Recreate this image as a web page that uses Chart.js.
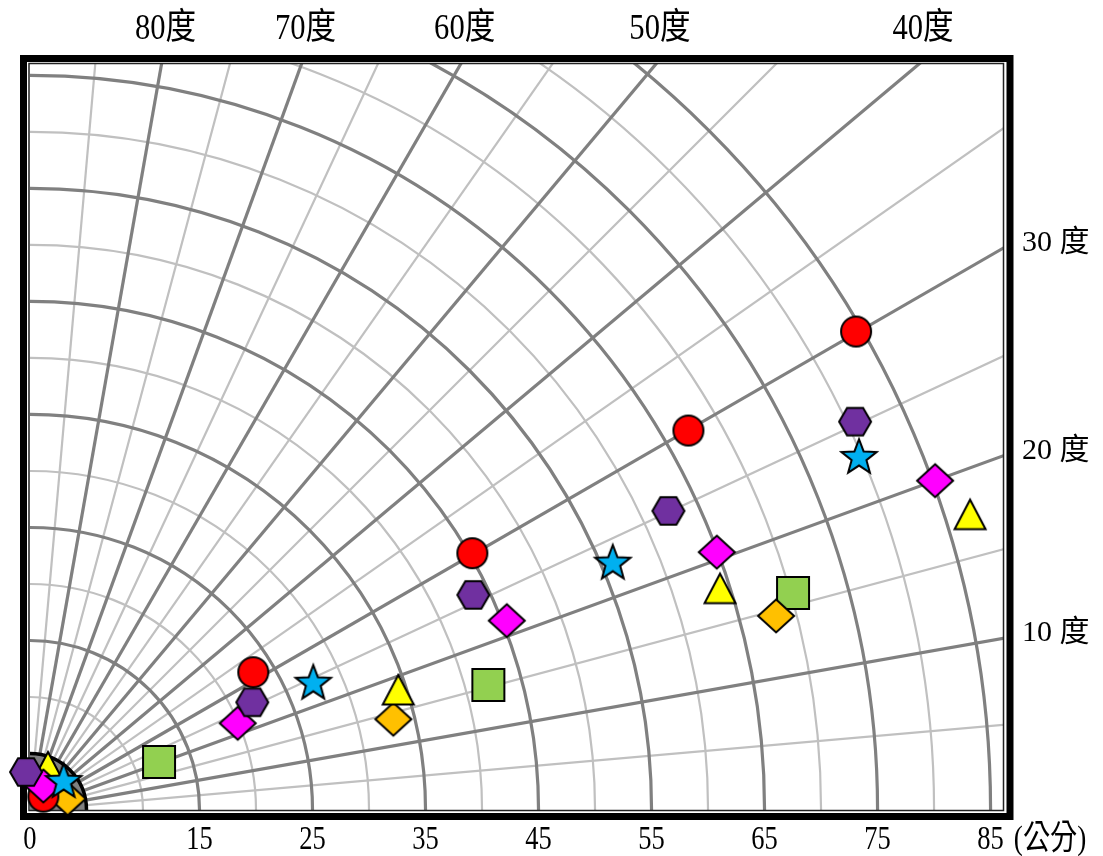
<!DOCTYPE html>
<html>
<head>
<meta charset="utf-8">
<script src="https://cdn.jsdelivr.net/npm/chart.js@4.4.1/dist/chart.umd.min.js"></script>
<style>
  html, body { margin: 0; padding: 0; background: #ffffff; }
  #wrap { width: 1103px; height: 856px; }
</style>
</head>
<body>
<div id="wrap"><canvas id="chart" width="1103" height="856"></canvas></div>
<script>
// Polar grid: distance rings (cm) and angle spokes (degrees)
const majorRings = [15, 25, 35, 45, 55, 65, 75, 85];
const minorRings = [10, 20, 30, 40, 50, 60, 70, 80];
const hubRing = 5;
const majorSpokes = [10, 20, 30, 40, 50, 60, 70, 80];
const minorSpokes = [5, 15, 25, 35, 45, 55, 65, 75, 85];

// Tick labels
const distanceTicks = [0, 15, 25, 35, 45, 55, 65, 75, 85];
const distanceUnit = '(公分)';
const topAngleTicks = [80, 70, 60, 50, 40];
const sideAngleTicks = [30, 20, 10];
const angleUnit = '度';

// Series: landing points, x = horizontal cm, y = vertical cm
const redX     = [1.18, 19.76, 39.14, 58.26, 73.10];
const redY     = [1.18, 12.19, 22.72, 33.57, 42.33];
const purpleX  = [-0.35, 19.67, 39.23, 56.49, 73.01];
const purpleY  = [3.36, 9.53, 19.03, 26.46, 34.36];
const blueX    = [2.98, 25.07, 51.57, 73.36];
const blueY    = [2.65, 11.35, 21.97, 31.33];
const magentaX = [1.18, 18.38, 42.19, 60.77, 80.09];
const magentaY = [2.12, 7.67, 16.75, 22.81, 29.14];
const yellowX  = [1.59, 32.59, 61.06, 83.19];
const yellowY  = [3.80, 10.62, 19.58, 26.13];
const orangeX  = [3.33, 32.15, 66.02];
const orangeY  = [1.00, 8.03, 17.17];
const greenX   = [11.42, 40.56, 67.52];
const greenY   = [4.25, 11.06, 19.20];

const pairs = (xs, ys) => xs.map((x, i) => ({ x: x, y: ys[i] }));

// Marker sprites (drawn once, used as point styles)
function marker(shape, fill) {
  const S = 46, m = S / 2;
  const c = document.createElement('canvas');
  c.width = S; c.height = S;
  const g = c.getContext('2d');
  g.beginPath();
  if (shape === 'circle') {
    g.arc(m, m, 15, 0, Math.PI * 2);
  } else if (shape === 'hexagon') {
    const R = 16;
    for (let i = 0; i < 6; i++) {
      const a = i * Math.PI / 3;
      const px = m + R * Math.cos(a), py = m + R * Math.sin(a);
      i ? g.lineTo(px, py) : g.moveTo(px, py);
    }
  } else if (shape === 'star') {
    const R = 18.5, r = 7.8, dy = (R - R * Math.cos(Math.PI / 5)) / 2;
    for (let i = 0; i < 10; i++) {
      const a = -Math.PI / 2 + i * Math.PI / 5;
      const rad = i % 2 ? r : R;
      const px = m + rad * Math.cos(a), py = m + dy + rad * Math.sin(a);
      i ? g.lineTo(px, py) : g.moveTo(px, py);
    }
  } else if (shape === 'diamond') {
    g.moveTo(m, m - 16.5); g.lineTo(m + 18, m); g.lineTo(m, m + 16.5); g.lineTo(m - 18, m);
  } else if (shape === 'triangle') {
    g.moveTo(m, m - 15); g.lineTo(m + 15.5, m + 14.5); g.lineTo(m - 15.5, m + 14.5);
  } else if (shape === 'square') {
    g.rect(m - 16, m - 16, 32, 32);
  }
  g.closePath();
  g.fillStyle = fill;
  g.fill();
  g.lineWidth = 2;
  g.lineJoin = 'miter';
  g.strokeStyle = '#000000';
  g.stroke();
  return c;
}

function series(label, xs, ys, shape, fill) {
  return {
    label: label,
    data: pairs(xs, ys),
    pointStyle: marker(shape, fill),
    pointRadius: 16,
    pointHoverRadius: 16,
    pointBorderWidth: 0,
    showLine: false,
    clip: false
  };
}

// Frame, rings and spokes, drawn beneath the markers
const polarGrid = {
  id: 'polarGrid',
  beforeDatasetsDraw(chart) {
    const { ctx, chartArea: a, scales: { x, y } } = chart;
    const ox = x.getPixelForValue(0), oy = y.getPixelForValue(0);
    const unit = x.getPixelForValue(1) - ox;
    ctx.save();

    ctx.save();
    ctx.beginPath();
    ctx.rect(a.left, a.top, a.right - a.left, a.bottom - a.top);
    ctx.clip();

    const ring = (r, color, w) => {
      ctx.beginPath();
      ctx.arc(ox, oy, r * unit, -Math.PI / 2, 0);
      ctx.strokeStyle = color; ctx.lineWidth = w; ctx.stroke();
    };
    const spoke = (deg, color, w) => {
      const t = deg * Math.PI / 180;
      ctx.beginPath();
      ctx.moveTo(ox + hubRing * unit * Math.cos(t), oy - hubRing * unit * Math.sin(t));
      ctx.lineTo(ox + 130 * unit * Math.cos(t), oy - 130 * unit * Math.sin(t));
      ctx.strokeStyle = color; ctx.lineWidth = w; ctx.stroke();
    };
    minorRings.forEach(r => ring(r, '#c0c0c0', 2.2));
    minorSpokes.forEach(d => spoke(d, '#c0c0c0', 2.2));
    majorRings.forEach(r => ring(r, '#808080', 3.2));
    majorSpokes.forEach(d => spoke(d, '#808080', 3.2));

    // hub
    ctx.beginPath();
    ctx.moveTo(ox, oy);
    ctx.arc(ox, oy, hubRing * unit, -Math.PI / 2, 0);
    ctx.closePath();
    ctx.fillStyle = '#808080';
    ctx.fill();
    ctx.beginPath();
    ctx.arc(ox, oy, hubRing * unit, -Math.PI / 2, 0);
    ctx.strokeStyle = '#000000'; ctx.lineWidth = 3.5; ctx.stroke();
    ctx.restore();

    // double frame
    ctx.strokeStyle = '#222222';
    ctx.lineWidth = 1.5;
    ctx.strokeRect(a.left - 1, a.top - 0.5, a.right - a.left + 1.5, a.bottom - a.top + 1);
    ctx.strokeStyle = '#000000';
    ctx.lineWidth = 7;
    ctx.strokeRect(a.left - 6.5, a.top - 5.5, a.right - a.left + 13.5, a.bottom - a.top + 12);
    ctx.restore();
  },
  afterDraw(chart) {
    const { ctx, chartArea: a, scales: { x, y } } = chart;
    const ox = x.getPixelForValue(0), oy = y.getPixelForValue(0);
    const serif = '"Liberation Serif", "Noto Sans CJK TC", serif';
    ctx.save();
    ctx.fillStyle = '#000000';
    ctx.textBaseline = 'middle';

    const squeezed = (text, cx, cy, size, sx, align) => {
      ctx.save();
      ctx.translate(cx, cy);
      ctx.scale(sx, 1);
      ctx.font = size + 'px ' + serif;
      ctx.textAlign = align || 'center';
      ctx.fillText(text, 0, 0);
      ctx.restore();
    };

    // distance labels along the bottom
    let lastRight = 0;
    distanceTicks.forEach(v => {
      const px = x.getPixelForValue(v);
      squeezed(String(v), px, 840, 34, 0.78);
      ctx.font = '34px ' + serif;
      lastRight = px + ctx.measureText(String(v)).width * 0.78 / 2;
    });
    squeezed(distanceUnit, lastRight + 10, 840, 34, 0.8, 'left');

    // angle labels across the top
    topAngleTicks.forEach(d => {
      const t = d * Math.PI / 180;
      const px = ox + (oy - a.top) / Math.tan(t);
      squeezed(d + angleUnit, px + 4, 30, 36, 0.85);
    });

    // angle labels down the right side
    ctx.font = '30px ' + serif;
    ctx.textAlign = 'left';
    sideAngleTicks.forEach(d => {
      const t = d * Math.PI / 180;
      const py = oy - (a.right - ox) * Math.tan(t);
      ctx.fillText(d + ' ' + angleUnit, a.right + 19, py - 5);
    });
    ctx.restore();
  }
};

new Chart(document.getElementById('chart'), {
  type: 'scatter',
  data: {
    datasets: [
      series('星形', blueX, blueY, 'star', '#00b0f0'),
      series('六角形', purpleX, purpleY, 'hexagon', '#7030a0'),
      series('菱形', magentaX, magentaY, 'diamond', '#ff00ff'),
      series('三角形', yellowX, yellowY, 'triangle', '#ffff00'),
      series('圓形', redX, redY, 'circle', '#ff0000'),
      series('橙菱形', orangeX, orangeY, 'diamond', '#ffc000'),
      series('方形', greenX, greenY, 'square', '#92d050')
    ]
  },
  options: {
    responsive: false,
    devicePixelRatio: 1,
    animation: false,
    layout: { padding: { left: 30, top: 64, right: 100, bottom: 46 } },
    scales: {
      x: { type: 'linear', min: 0, max: 86.1, display: false },
      y: { type: 'linear', min: 0, max: 66.0, display: false }
    },
    plugins: {
      legend: { display: false },
      tooltip: { enabled: false }
    },
    events: []
  },
  plugins: [polarGrid]
});
</script>
</body>
</html>
